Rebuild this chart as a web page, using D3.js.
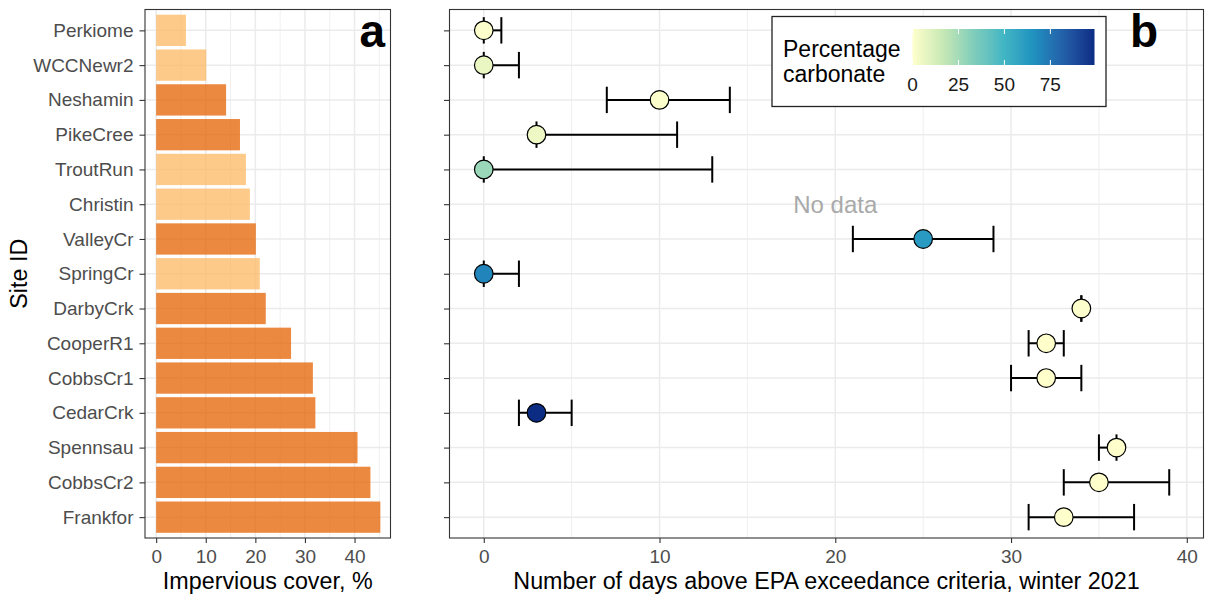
<!DOCTYPE html>
<html>
<head>
<meta charset="utf-8">
<script src="https://cdn.jsdelivr.net/npm/d3@7"></script>
<style>
  body { margin: 0; background: #fff; }
  svg text { font-family: "Liberation Sans", Arial, sans-serif; }
</style>
</head>
<body>
<svg width="1206" height="597"></svg>
<script>
// site order, top to bottom
var sites = ["Perkiome", "WCCNewr2", "Neshamin", "PikeCree", "TroutRun", "Christin", "ValleyCr",
  "SpringCr", "DarbyCrk", "CooperR1", "CobbsCr1", "CedarCrk", "Spennsau", "CobbsCr2", "Frankfor"];
var impervious = [6.0, 10.1, 14.1, 16.9, 18.1, 18.9, 20.1, 20.9, 22.1, 27.2, 31.6, 32.1, 40.6, 43.2, 45.2];
var coverGroup = ["low", "low", "high", "high", "low", "low", "high", "low", "high", "high", "high", "high", "high", "high", "high"];
var daysMean = [0, 0, 10, 3, 0, null, 25, 0, 34, 32, 32, 3, 36, 35, 33];
var daysMin = [0, 0, 7, 3, 0, null, 21, 0, 34, 31, 30, 2, 35, 33, 31];
var daysMax = [1, 2, 14, 11, 13, null, 29, 2, 34, 33, 34, 5, 36, 39, 37];
var carbonate = [1, 6, 1, 5, 27, null, 62, 70, 1, 0, 0, 99, 0, 0, 0];
var xTicks = [0, 10, 20, 30, 40];
var legendTicks = [0, 25, 50, 75];

var groupColors = { "low": "#fdb863", "high": "#e66101" };
var ylgnbu = ["#ffffcc", "#c7e9b4", "#7fcdbb", "#41b6c4", "#1d91c0", "#225ea8", "#0c2c84"];
var carbMax = 99;

var rows = sites.map(function(s, i) {
  return { site: s, imp: impervious[i], group: coverGroup[i], mean: daysMean[i],
    lo: daysMin[i], hi: daysMax[i], carb: carbonate[i] };
});

var svg = d3.select("svg");
var pTop = 9.5, pBottom = 538;

var y = d3.scalePoint().domain(sites).range([pTop, pBottom]).padding(0.6);
var step = y.step();

var fill = d3.scaleLinear()
  .domain(ylgnbu.map(function(c, i) { return i * carbMax / (ylgnbu.length - 1); }))
  .range(ylgnbu)
  .interpolate(d3.interpolateLab);

function grid(g, x, majors, minors, x0, x1) {
  g.selectAll(".minor").data(minors).enter().append("line")
    .attr("x1", function(d) { return x(d); }).attr("x2", function(d) { return x(d); })
    .attr("y1", pTop).attr("y2", pBottom)
    .attr("stroke", "#ebebeb").attr("stroke-width", 0.8);
  g.selectAll(".majx").data(majors).enter().append("line")
    .attr("x1", function(d) { return x(d); }).attr("x2", function(d) { return x(d); })
    .attr("y1", pTop).attr("y2", pBottom)
    .attr("stroke", "#ebebeb").attr("stroke-width", 1.5);
  g.selectAll(".majy").data(sites).enter().append("line")
    .attr("x1", x0).attr("x2", x1)
    .attr("y1", function(d) { return y(d); }).attr("y2", function(d) { return y(d); })
    .attr("stroke", "#ebebeb").attr("stroke-width", 1.5);
}

function axes(x, x0, x1, showLabels) {
  var ax = svg.append("g").attr("transform", "translate(0," + pBottom + ")")
    .call(d3.axisBottom(x).tickValues(xTicks).tickSize(5).tickPadding(6.5).tickFormat(d3.format("d")));
  var ay = svg.append("g").attr("transform", "translate(" + x0 + ",0)")
    .call(d3.axisLeft(y).tickSize(5.5).tickPadding(6));
  [ax, ay].forEach(function(a) {
    a.attr("font-size", null).attr("font-family", null);
    a.select(".domain").remove();
    a.selectAll(".tick line").attr("stroke", "#333").attr("stroke-width", 1.1);
    a.selectAll(".tick text").attr("fill", "#4d4d4d").style("font-size", "19px");
  });
  if (!showLabels) ay.selectAll(".tick text").remove();
  svg.append("rect").attr("x", x0).attr("y", pTop).attr("width", x1 - x0).attr("height", pBottom - pTop)
    .attr("fill", "none").attr("stroke", "#333").attr("stroke-width", 1.1);
}

// ---- panel a ----
var xa0 = 145, xa1 = 390.5;
var xa = d3.scaleLinear().domain([-2.25, 47.25]).range([xa0, xa1]);
var ga = svg.append("g");
grid(ga, xa, xTicks, [5, 15, 25, 35, 45], xa0, xa1);

ga.selectAll(".bar").data(rows).enter().append("rect")
  .attr("x", xa(0))
  .attr("y", function(d) { return y(d.site) - step * 0.45; })
  .attr("width", function(d) { return xa(d.imp) - xa(0); })
  .attr("height", step * 0.9)
  .attr("fill", function(d) { return groupColors[d.group]; })
  .attr("fill-opacity", 0.75);

axes(xa, xa0, xa1, true);

svg.append("text").attr("x", 385).attr("y", 47).attr("text-anchor", "end")
  .style("font-size", "46px").style("font-weight", "bold").text("a");

svg.append("text").attr("x", (xa0 + xa1) / 2).attr("y", 589).attr("text-anchor", "middle")
  .style("font-size", "23.3px").text("Impervious cover, %");

svg.append("text").attr("transform", "translate(26.5," + ((pTop + pBottom) / 2) + ") rotate(-90)")
  .attr("text-anchor", "middle").style("font-size", "23.3px").text("Site ID");

// ---- panel b ----
var xb0 = 449.5, xb1 = 1203.5;
var xb = d3.scaleLinear().domain([-1.95, 40.95]).range([xb0, xb1]);
var gb = svg.append("g");
grid(gb, xb, xTicks, [5, 15, 25, 35], xb0, xb1);

var have = rows.filter(function(d) { return d.mean !== null; });
var eb = gb.selectAll(".eb").data(have).enter().append("g")
  .attr("stroke", "#000").attr("stroke-width", 2);
eb.append("line")
  .attr("x1", function(d) { return xb(d.lo); }).attr("x2", function(d) { return xb(d.hi); })
  .attr("y1", function(d) { return y(d.site); }).attr("y2", function(d) { return y(d.site); });
eb.append("line")
  .attr("x1", function(d) { return xb(d.lo); }).attr("x2", function(d) { return xb(d.lo); })
  .attr("y1", function(d) { return y(d.site) - step * 0.38; }).attr("y2", function(d) { return y(d.site) + step * 0.38; });
eb.append("line")
  .attr("x1", function(d) { return xb(d.hi); }).attr("x2", function(d) { return xb(d.hi); })
  .attr("y1", function(d) { return y(d.site) - step * 0.38; }).attr("y2", function(d) { return y(d.site) + step * 0.38; });

gb.selectAll(".pt").data(have).enter().append("circle")
  .attr("cx", function(d) { return xb(d.mean); })
  .attr("cy", function(d) { return y(d.site); })
  .attr("r", 9.3)
  .attr("fill", function(d) { return fill(d.carb); })
  .attr("stroke", "#000").attr("stroke-width", 1.2);

gb.selectAll(".nodata").data(rows.filter(function(d) { return d.mean === null; })).enter().append("text")
  .attr("x", xb(20)).attr("y", function(d) { return y(d.site); })
  .attr("dy", "0.35em").attr("text-anchor", "middle")
  .attr("fill", "#a9a9a9").style("font-size", "24px").text("No data");

axes(xb, xb0, xb1, false);

svg.append("text").attr("x", 1130).attr("y", 47)
  .style("font-size", "46px").style("font-weight", "bold").text("b");

svg.append("text").attr("x", (xb0 + xb1) / 2).attr("y", 589).attr("text-anchor", "middle")
  .style("font-size", "23.3px").text("Number of days above EPA exceedance criteria, winter 2021");

// ---- legend ----
var lg = svg.append("g");
lg.append("rect").attr("x", 772).attr("y", 16.5).attr("width", 334).attr("height", 90)
  .attr("fill", "#fff").attr("stroke", "#222").attr("stroke-width", 1.3);
lg.append("text").attr("x", 783).attr("y", 57).style("font-size", "23px").text("Percentage");
lg.append("text").attr("x", 783).attr("y", 82).style("font-size", "23px").text("carbonate");

var lx = d3.scaleLinear().domain([0, carbMax]).range([912.5, 1094.5]);
var grad = svg.append("defs").append("linearGradient").attr("id", "carbGrad");
d3.range(0, 1.0001, 0.05).forEach(function(t) {
  grad.append("stop").attr("offset", (t * 100) + "%").attr("stop-color", fill(t * carbMax));
});
lg.append("rect").attr("x", lx(0)).attr("y", 29).attr("width", lx(carbMax) - lx(0)).attr("height", 36)
  .attr("fill", "url(#carbGrad)");
lg.selectAll(".lt").data(legendTicks).enter().append("g").each(function(d) {
  var g = d3.select(this);
  g.append("line").attr("x1", lx(d)).attr("x2", lx(d)).attr("y1", 29).attr("y2", 34)
    .attr("stroke", "#fff").attr("stroke-width", 1);
  g.append("line").attr("x1", lx(d)).attr("x2", lx(d)).attr("y1", 60).attr("y2", 65)
    .attr("stroke", "#fff").attr("stroke-width", 1);
  g.append("text").attr("x", lx(d)).attr("y", 91).attr("text-anchor", "middle")
    .style("font-size", "19px").attr("fill", "#1a1a1a").text(d);
});
</script>
</body>
</html>
